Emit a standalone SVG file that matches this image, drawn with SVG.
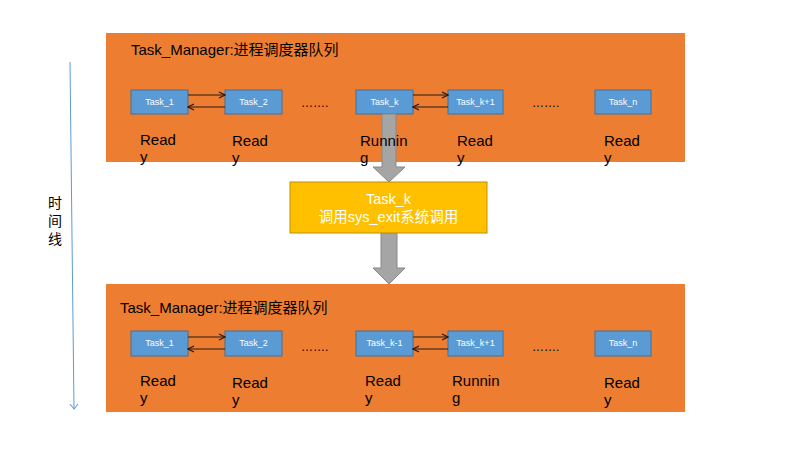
<svg xmlns="http://www.w3.org/2000/svg" width="800" height="450" viewBox="0 0 800 450">
<defs>
<style>
.panel{fill:#ed7d31}
.task{fill:#5b9bd5;stroke:#41719c;stroke-width:1}
.tt{font-family:"Liberation Sans","Noto Sans CJK SC",sans-serif;font-size:9px;fill:#ffffff;text-anchor:middle}
.lbl{font-family:"Liberation Sans","Noto Sans CJK SC",sans-serif;font-size:15px;fill:#000000}
.title{font-family:"Liberation Sans","Noto Sans CJK SC",sans-serif;font-size:15px;fill:#000000}
.dots{font-family:"Liberation Sans",sans-serif;font-size:12px;fill:#000000}
.link{stroke:#2a1a10;stroke-width:1.2;fill:none}
.big{fill:#a5a5a5;stroke:#888888;stroke-width:1}
.yt{font-family:"Liberation Sans","Noto Sans CJK SC",sans-serif;font-size:14.5px;fill:#ffffff;text-anchor:middle}
.tl{font-family:"Liberation Sans","Noto Sans CJK SC",sans-serif;font-size:14px;fill:#000000}
</style>
<marker id="ah" markerWidth="8" markerHeight="8" refX="7" refY="4" orient="auto" markerUnits="userSpaceOnUse">
<path d="M1,1 L7,4 L1,7" fill="none" stroke="#2a1a10" stroke-width="1.2"/>
</marker>
<marker id="tah" markerWidth="10" markerHeight="10" refX="8" refY="5" orient="auto" markerUnits="userSpaceOnUse">
<path d="M3,1 L8,5 L3,9" fill="none" stroke="#5b9bd5" stroke-width="1"/>
</marker>
</defs>

<g id="panel-top">
<rect class="panel" x="106" y="33" width="579" height="129"/>
<text class="title" x="131" y="55">Task_Manager:进程调度器队列</text>
</g>
<g id="panel-bottom">
<rect class="panel" x="106" y="284" width="579" height="128"/>
<text class="title" x="120" y="313">Task_Manager:进程调度器队列</text>
</g>

<g id="timeline">
<line x1="70" y1="62" x2="74" y2="409" stroke="#5b9bd5" stroke-width="1" marker-end="url(#tah)"/>
<text class="tl" x="48" y="208">时</text>
<text class="tl" x="48" y="226">间</text>
<text class="tl" x="48" y="244">线</text>
</g>

<g id="top-t1"><rect class="task" x="131" y="90" width="57" height="24"/><text class="tt" x="159.5" y="105">Task_1</text></g>
<g id="top-t2"><rect class="task" x="225" y="90" width="57" height="24"/><text class="tt" x="253.5" y="105">Task_2</text></g>
<g id="top-tk"><rect class="task" x="356" y="90" width="57" height="24"/><text class="tt" x="384.5" y="105">Task_k</text></g>
<g id="top-tk1"><rect class="task" x="448" y="90" width="55" height="24"/><text class="tt" x="475.5" y="105">Task_k+1</text></g>
<g id="top-tn"><rect class="task" x="595" y="90" width="56" height="24"/><text class="tt" x="623" y="105">Task_n</text></g>

<g id="bot-t1"><rect class="task" x="131" y="331" width="57" height="25"/><text class="tt" x="159.5" y="346">Task_1</text></g>
<g id="bot-t2"><rect class="task" x="225" y="331" width="57" height="25"/><text class="tt" x="253.5" y="346">Task_2</text></g>
<g id="bot-tk-1"><rect class="task" x="356" y="331" width="57" height="25"/><text class="tt" x="384.5" y="346">Task_k-1</text></g>
<g id="bot-tk1"><rect class="task" x="448" y="331" width="55" height="25"/><text class="tt" x="475.5" y="346">Task_k+1</text></g>
<g id="bot-tn"><rect class="task" x="595" y="331" width="56" height="25"/><text class="tt" x="623" y="346">Task_n</text></g>

<g id="connectors">
<line class="link" x1="188" y1="95" x2="225" y2="95" marker-end="url(#ah)"/>
<line class="link" x1="225" y1="107" x2="188" y2="107" marker-end="url(#ah)"/>
<line class="link" x1="413" y1="95" x2="448" y2="95" marker-end="url(#ah)"/>
<line class="link" x1="448" y1="107" x2="413" y2="107" marker-end="url(#ah)"/>
<line class="link" x1="188" y1="337" x2="225" y2="337" marker-end="url(#ah)"/>
<line class="link" x1="225" y1="349" x2="188" y2="349" marker-end="url(#ah)"/>
<line class="link" x1="413" y1="337" x2="448" y2="337" marker-end="url(#ah)"/>
<line class="link" x1="448" y1="349" x2="413" y2="349" marker-end="url(#ah)"/>
<path class="big" d="M382,114 L396,114 L396,167 L405,167 L389,182 L373,167 L382,167 Z"/>
<path class="big" d="M381,233 L397,233 L397,268 L405,268 L389,284 L373,268 L381,268 Z"/>
</g>

<g id="labels">
<text class="dots" x="301" y="107">…….</text>
<text class="dots" x="532" y="107">…….</text>
<text class="dots" x="301" y="351">…….</text>
<text class="dots" x="532" y="351">…….</text>
<text class="lbl" x="140" y="145">Read</text><text class="lbl" x="140" y="162">y</text>
<text class="lbl" x="232" y="146">Read</text><text class="lbl" x="232" y="163">y</text>
<text class="lbl" x="360" y="146">Runnin</text><text class="lbl" x="360" y="163">g</text>
<text class="lbl" x="457" y="146">Read</text><text class="lbl" x="457" y="163">y</text>
<text class="lbl" x="604" y="146">Read</text><text class="lbl" x="604" y="163">y</text>
<text class="lbl" x="140" y="386">Read</text><text class="lbl" x="140" y="403">y</text>
<text class="lbl" x="232" y="388">Read</text><text class="lbl" x="232" y="405">y</text>
<text class="lbl" x="365" y="386">Read</text><text class="lbl" x="365" y="403">y</text>
<text class="lbl" x="452" y="386">Runnin</text><text class="lbl" x="452" y="403">g</text>
<text class="lbl" x="604" y="388">Read</text><text class="lbl" x="604" y="405">y</text>
</g>

<g id="exit-box">
<rect x="290" y="182" width="197" height="51" fill="#ffc000" stroke="#bf9000" stroke-width="1"/>
<text class="yt" x="388.5" y="204">Task_k</text>
<text class="yt" x="388.5" y="222">调用sys_exit系统调用</text>
</g>
</svg>
